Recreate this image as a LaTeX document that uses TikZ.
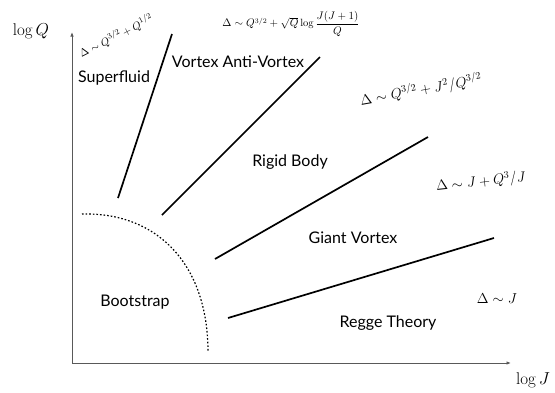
\documentclass[tikz,border=0pt]{standalone}
\usepackage{amsmath}
\usepackage{fontspec}
\setsansfont{Lato}
\usetikzlibrary{arrows.meta}

\begin{document}
\begin{tikzpicture}[x=1pt,y=-1pt,>={Latex[length=4.5pt,width=3.5pt]},
  phase/.style={font=\sffamily\fontsize{16}{19}\selectfont},
  scal/.style={font=\fontsize{14}{17}\selectfont},
  border/.style={line width=1.7pt},
  axis/.style={->,line width=1pt,black!65}]
\useasboundingbox (0,0) rectangle (555,392);
\coordinate (o) at (72,363);
\coordinate (qtop) at (72,32);
\coordinate (jend) at (511,363);
\draw[axis] (o)--(qtop);
\draw[axis] (o)--(jend);
\node[font=\fontsize{17}{20}\selectfont] (lq) at (31,31) {$\log Q$};
\node[font=\fontsize{17}{20}\selectfont] (lj) at (533,380) {$\log J$};
\draw[border] (118,198)--(172,34);
\draw[border] (162,215)--(320,57);
\draw[border] (215,259)--(428,137);
\draw[border] (228,318)--(494,238);
\draw[line width=1.2pt,dash pattern=on 1.6pt off 2pt] (82,214) .. controls (155,212) and (208,262) .. (208,352);
\node[phase] (sf) at (114,78) {Superfluid};
\node[phase] (vav) at (238,62) {Vortex Anti-Vortex};
\node[phase] (rb) at (290,162) {Rigid Body};
\node[phase] (gv) at (353,238) {Giant Vortex};
\node[phase] (rt) at (388,323) {Regge Theory};
\node[phase] (bs) at (135,302) {Bootstrap};
\node[font=\fontsize{11}{13}\selectfont,rotate=27] (dsf) at (116,36) {$\Delta\sim Q^{3/2}+Q^{1/2}$};
\node[font=\fontsize{10.5}{12}\selectfont] (dvav) at (291,24) {$\Delta\sim Q^{3/2}+\sqrt{Q}\log\dfrac{J(J+1)}{Q}$};
\node[scal,rotate=10] (drb) at (421,90) {$\Delta\sim Q^{3/2}+J^2/Q^{3/2}$};
\node[scal,rotate=6] (dgv) at (481,182) {$\Delta\sim J+Q^3/J$};
\node[scal] (drt) at (497,299) {$\Delta\sim J$};
\end{tikzpicture}
\end{document}
